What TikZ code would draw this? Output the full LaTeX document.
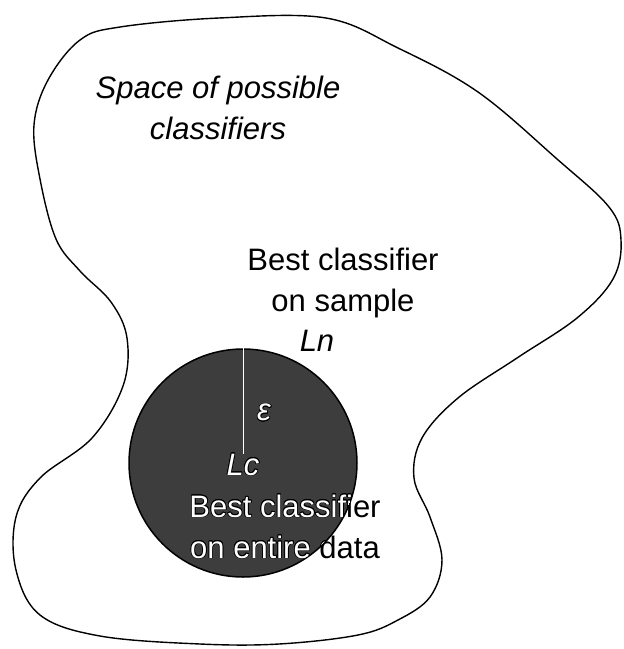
\documentclass[tikz,border=0pt]{standalone}
\usepackage{fontspec}
\setmainfont{Liberation Sans}
\usepackage[copies]{contour}
\contourlength{0.7pt}

\tikzset{
    lbl/.style={font=\fontsize{31}{41}\selectfont, align=center, inner sep=0pt},
    ilbl/.style={lbl, font=\fontsize{31}{41}\selectfont\itshape},
    wlbl/.style={text=white},
}

\begin{document}
\begin{tikzpicture}[x=1pt,y=-1pt]
\useasboundingbox (0,0) rectangle (624,649);

% ===== Khong gian cac bo phan lop =====
\draw[line width=1.4pt] plot[smooth cycle, tension=0.6] coordinates {
    (34,125) (48,80) (80,40) (120,27) (219,18) (326,18) (398,48)
    (478,92) (557,159) (609,207) (621,240) (613,279) (577,318)
    (517,358) (458,398) (422,438) (414,478) (430,517) (442,560)
    (430,597) (398,620) (358,635) (279,644) (200,644) (100,636)
    (40,615) (16,570) (16,517) (40,478) (92,438) (123,386)
    (127,338) (111,302) (80,271) (56,239) (40,179)
};

% ===== Hinh tron =====
\node[circle, draw, line width=1.5pt, fill=black!76, minimum size=228pt,
      inner sep=0pt] (best) at (243,463) {};

% ===== Nhan =====
\node[ilbl] (space) at (218,108) {Space of possible\\classifiers};
\node[lbl] (sample) at (343,283) {Best classifier\\on sample};
\node[ilbl] (ln) at (317,341) {Ln};
\node[lbl] (entire) at (285,527) {Best classifier\\on entire data};

% Phan nam trong hinh tron
\begin{scope}
    \clip (243,463) circle (113pt);
    \node[lbl, wlbl] (entirew) at (285,527)
        {\contour{black}{Best classifier}\\\contour{black}{on entire data}};
\end{scope}
\node[ilbl, wlbl] (lc) at (243,465) {\contour{black}{Lc}};
\node[ilbl, wlbl] (eps) at (264,413) {\contour{black}{ε}};

\draw[white, line width=0.8pt] (best.north) -- (lc.north);

\end{tikzpicture}
\end{document}
